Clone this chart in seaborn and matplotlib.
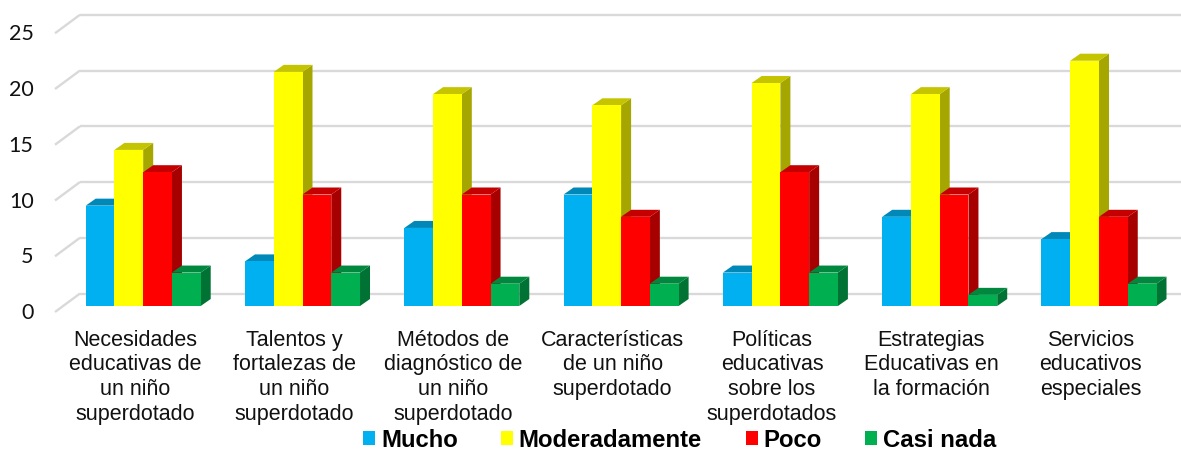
import matplotlib
matplotlib.use('Agg')
import matplotlib.pyplot as plt
from matplotlib.transforms import ScaledTranslation
import pandas as pd
import seaborn as sns

categories = ['Necesidades\neducativas de\nun niño\nsuperdotado',
              'Talentos y\nfortalezas de\nun niño\nsuperdotado',
              'Métodos de\ndiagnóstico de\nun niño\nsuperdotado',
              'Características\nde un niño\nsuperdotado',
              'Políticas\neducativas\nsobre los\nsuperdotados',
              'Estrategias\nEducativas en\nla formación',
              'Servicios\neducativos\nespeciales']
mucho = [9, 4, 7, 10, 3, 8, 6]
moderadamente = [14, 21, 19, 18, 20, 19, 22]
poco = [12, 10, 10, 8, 12, 10, 8]
casi_nada = [3, 3, 2, 2, 3, 1, 2]
series_names = ['Mucho', 'Moderadamente', 'Poco', 'Casi nada']
colors = ['#00B0F0', '#FFFF00', '#FF0000', '#00B050']
y_ticks = [0, 5, 10, 15, 20, 25]

W, H = 1181, 450
PX_X = 159.3  # pixels per category
PX_Y = 11.15  # pixels per value unit
FIRST = 143.2  # pixel centre of first group


def shade(color, k):
    r, g, b = matplotlib.colors.to_rgb(color)
    return (r * k, g * k, b * k)


def main():
    sns.set_theme(style='white')
    plt.rcParams['font.family'] = ['Liberation Sans', 'DejaVu Sans']

    df = pd.DataFrame({'cat': categories, 'Mucho': mucho, 'Moderadamente': moderadamente,
                       'Poco': poco, 'Casi nada': casi_nada})
    melt = df.melt(id_vars='cat', var_name='serie', value_name='valor')

    fig = plt.figure(figsize=(W / 100, H / 100), dpi=100)
    left, base = 55, 306
    ax = fig.add_axes([left / W, (H - base) / H, (W - left) / W, (base - 2) / H])

    sns.barplot(data=melt, x='cat', y='valor', hue='serie', hue_order=series_names,
                palette=colors, width=0.722, gap=0, saturation=1, linewidth=0, ax=ax)

    ax.set_xlim((left - FIRST) / PX_X, (W - FIRST) / PX_X)
    ax.set_ylim(0, (base - 2) / PX_Y)
    sns.despine(ax=ax, left=True, bottom=True)
    ax.set_xlabel('')
    ax.set_ylabel('')

    # fake 3d walls
    wall_dx, wall_dy = 25 / PX_X, 18.5 / PX_Y
    front_y = -6 / PX_Y
    x0 = ax.get_xlim()[0]
    for v in y_ticks:
        ax.plot([x0, x0 + wall_dx], [v + front_y, v + front_y + wall_dy], color='#d9d9d9',
                lw=1.7, clip_on=False, zorder=0.5, solid_capstyle='butt')
        ax.plot([x0 + wall_dx, ax.get_xlim()[1]], [v + front_y + wall_dy] * 2, color='#d9d9d9',
                lw=1.7, clip_on=False, zorder=0.5, solid_capstyle='butt')

    # fake 3d bar faces, left to right so neighbours overlap properly
    dx, dy = 10 / PX_X, 7 / PX_Y
    bars = [p for p in ax.patches if p.get_height() > 0]
    bars = sorted(bars, key=lambda p: p.get_x())
    for i, p in enumerate(bars):
        x1, w, h = p.get_x(), p.get_width(), p.get_height()
        x2 = x1 + w
        c = p.get_facecolor()
        z = 2 + i * 0.01
        ax.fill([x2, x2 + dx, x2 + dx, x2], [0, dy, h + dy, h], color=shade(c, 0.65), lw=0,
                zorder=z, clip_on=False)
        ax.fill([x1, x1 + dx, x2 + dx, x2], [h, h + dy, h + dy, h], color=shade(c, 0.77), lw=0,
                zorder=z, clip_on=False)
        p.set_zorder(z + 0.001)

    ax.set_yticks(y_ticks)
    ax.set_yticklabels(y_ticks, fontsize=15.5, family='Lato', color='#111111')
    ax.tick_params(axis='both', length=0)
    ax.tick_params(axis='y', pad=1)
    off = ScaledTranslation(-20 / 100, -5 / 100, fig.dpi_scale_trans)
    for lab in ax.get_yticklabels():
        lab.set_transform(lab.get_transform() + off)

    ax.set_xticks(range(len(categories)))
    ax.set_xticklabels(categories, fontsize=15.5, linespacing=1.23, color='#111111')
    ax.tick_params(axis='x', pad=17)
    off = ScaledTranslation(-8.4 / 100, 0, fig.dpi_scale_trans)
    for lab in ax.get_xticklabels():
        lab.set_transform(lab.get_transform() + off)

    sns.move_legend(ax, 'center', bbox_to_anchor=(0.5755, 0.022), bbox_transform=fig.transFigure,
                    ncol=4, title=None, frameon=False, handlelength=0.5, handleheight=0.55,
                    columnspacing=1.83, handletextpad=0.23, borderpad=0, labelcolor='#000000',
                    prop={'weight': 'bold', 'size': 17.2, 'family': 'Liberation Sans'})

    fig.savefig('out.png', dpi=100)
    plt.close(fig)


if __name__ == '__main__':
    main()
